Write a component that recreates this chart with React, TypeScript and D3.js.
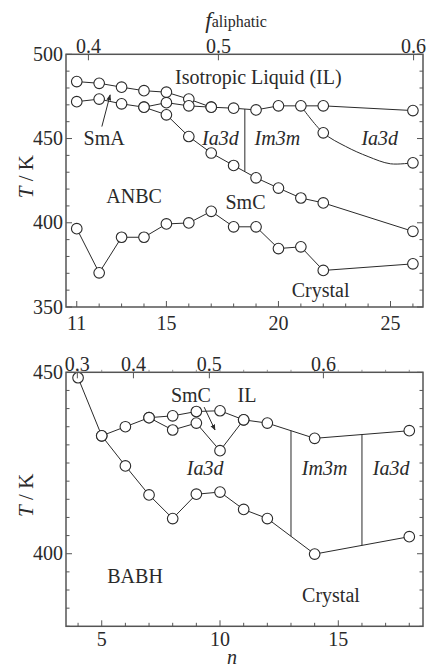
import * as d3 from "d3";
import React from "react";

// ANBC (upper panel) – transition temperatures T/K vs n
const anbcClearN = [11, 12, 13, 14, 15, 16, 17, 18, 19, 20, 21, 22, 26];
const anbcClearT = [483.8, 482.8, 480.5, 478.4, 477.5, 473.4, 468.6, 468.0, 467.0, 469.4, 469.4, 469.4, 466.6];
const anbcSmAN = [11, 12, 13, 14, 15, 16, 17];
const anbcSmAT = [471.9, 473.4, 470.6, 468.6, 471.3, 469.4, 468.6];
const anbcSmCN = [14, 15, 16, 17, 18, 19, 20, 21, 22, 26];
const anbcSmCT = [468.6, 464.1, 451.2, 441.4, 434.0, 426.7, 420.6, 414.7, 411.8, 394.9];
const anbcCrN = [11, 12, 13, 14, 15, 16, 17, 18, 19, 20, 21, 22, 26];
const anbcCrT = [396.5, 370.3, 391.4, 391.4, 399.3, 399.9, 406.8, 397.6, 397.6, 384.7, 385.7, 371.7, 375.6];
const anbcCubN = [21, 22, 23, 24, 25, 26];
const anbcCubT = [469.4, 453.4, 445.3, 439.3, 435.0, 435.6];
const anbcCubMarked = [22, 26];
const anbcWallN = [18.5];
const anbcFLabels = ["0.4", "0.5", "0.6"];
const anbcFAtN = [11.52, 17.32, 26.03];
const anbcXLabels = [11, 15, 20, 25];

// BABH (lower panel)
const babhILN = [4, 5, 6, 7, 8, 9, 10, 11, 12, 14, 18];
const babhILT = [448.5, 432.5, 435.0, 437.5, 438.0, 439.2, 439.4, 436.9, 436.0, 431.8, 433.9];
const babhSmCN = [7, 8, 9, 10, 11];
const babhSmCT = [437.5, 434.1, 436.0, 428.4, 436.9];
const babhCrN = [5, 6, 7, 8, 9, 10, 11, 12, 14, 18];
const babhCrT = [432.5, 424.2, 416.2, 409.7, 416.4, 417.0, 412.2, 409.7, 399.9, 404.7];
const babhWallN = [13, 16];
const babhFLabels = ["0.3", "0.4", "0.5", "0.6"];
const babhFAtN = [3.97, 6.34, 9.55, 14.37];
const babhXLabels = [5, 10, 15];

const W = 432;
const H = 667;
const serif = "'Liberation Serif', 'DejaVu Serif', serif";
const ink = "#2a2a2a";

type Series = { n: number[]; t: number[]; marked?: number[]; curve?: boolean };
type Label = { text: string; n: number; t: number; italic?: boolean };
type Arrow = { from: [number, number]; to: [number, number] };

// multiples of step inside [lo, hi]
const stepsIn = (lo: number, hi: number, step: number) =>
  d3.range(Math.ceil(lo / step - 1e-9) * step, hi + 1e-6, step);

function Panel(props: {
  top: number;
  bottom: number;
  xDomain: [number, number];
  yDomain: [number, number];
  yMajor: number;
  yMinor: number;
  xLabels: number[];
  xLabelGap: number;
  fLabels: string[];
  fAtN: number[];
  topMinor: boolean;
  series: Series[];
  walls: { n: number[]; upper: Series; lower: Series };
  labels: Label[];
  arrows: Arrow[];
}) {
  const left = 66;
  const right = 423;
  const x = d3.scaleLinear().domain(props.xDomain).range([left, right]);
  const y = d3.scaleLinear().domain(props.yDomain).range([props.bottom, props.top]);

  const [y0, y1] = props.yDomain;
  const yMinorTicks = stepsIn(y0, y1, props.yMinor);
  const yMajorTicks = stepsIn(y0, y1, props.yMajor);
  const isMajor = (t: number) => yMajorTicks.some((m) => Math.abs(m - t) < 1e-6);
  const xInts = d3.range(Math.ceil(props.xDomain[0]), Math.floor(props.xDomain[1]) + 1);

  const line = d3
    .line<[number, number]>()
    .x((d) => x(d[0]))
    .y((d) => y(d[1]));
  const curve = d3
    .line<[number, number]>()
    .x((d) => x(d[0]))
    .y((d) => y(d[1]))
    .curve(d3.curveCatmullRom.alpha(0.5));

  const interp = (s: Series) => d3.scaleLinear().domain(s.n).range(s.t);
  const up = interp(props.walls.upper);
  const lo = interp(props.walls.lower);

  return (
    <g>
      {/* phase boundary lines */}
      {props.series.map((s, i) => {
        const pts = s.n.map((n, j) => [n, s.t[j]] as [number, number]);
        return (
          <path
            key={"l" + i}
            d={(s.curve ? curve : line)(pts) || ""}
            fill="none"
            stroke={ink}
            strokeWidth={1}
          />
        );
      })}
      {props.walls.n.map((n) => (
        <line
          key={"w" + n}
          x1={x(n)}
          x2={x(n)}
          y1={y(up(n))}
          y2={y(lo(n))}
          stroke={ink}
          strokeWidth={1}
        />
      ))}
      {/* markers */}
      {props.series.map((s, i) =>
        s.n.map((n, j) =>
          s.marked && !s.marked.includes(n) ? null : (
            <circle
              key={"c" + i + "-" + j}
              cx={x(n)}
              cy={y(s.t[j])}
              r={5.3}
              fill="white"
              stroke={ink}
              strokeWidth={1.1}
            />
          )
        )
      )}
      {/* frame */}
      <rect
        x={left}
        y={props.top}
        width={right - left}
        height={props.bottom - props.top}
        fill="none"
        stroke="#555"
        strokeWidth={1.5}
      />
      {/* y ticks both sides */}
      {yMinorTicks.map((t) => {
        const len = isMajor(t) ? 6 : 3.5;
        return (
          <g key={"yt" + t} stroke="#555" strokeWidth={1}>
            <line x1={left} x2={left + len} y1={y(t)} y2={y(t)} />
            <line x1={right} x2={right - len} y1={y(t)} y2={y(t)} />
          </g>
        );
      })}
      {yMajorTicks.map((t) => (
        <text
          key={"yl" + t}
          x={left - 3}
          y={y(t)}
          dy="0.33em"
          textAnchor="end"
          fontFamily={serif}
          fontSize={20}
          fill={ink}
        >
          {t}
        </text>
      ))}
      {/* bottom x ticks */}
      {xInts.map((n) => {
        const len = props.xLabels.includes(n) ? 6 : 3.5;
        return (
          <line
            key={"xt" + n}
            x1={x(n)}
            x2={x(n)}
            y1={props.bottom}
            y2={props.bottom - len}
            stroke="#555"
            strokeWidth={1}
          />
        );
      })}
      {props.xLabels.map((n) => (
        <text
          key={"xl" + n}
          x={x(n)}
          y={props.bottom + props.xLabelGap}
          dy="0.33em"
          textAnchor="middle"
          fontFamily={serif}
          fontSize={20}
          fill={ink}
        >
          {n}
        </text>
      ))}
      {/* top f axis */}
      {props.topMinor &&
        xInts.map((n) => (
          <line
            key={"tt" + n}
            x1={x(n)}
            x2={x(n)}
            y1={props.top}
            y2={props.top - 2.5}
            stroke="#777"
            strokeWidth={0.8}
          />
        ))}
      {props.fAtN.map((n, i) => (
        <g key={"ft" + i}>
          <line x1={x(n)} x2={x(n)} y1={props.top} y2={props.top + 6} stroke="#555" strokeWidth={1} />
          <text
            x={x(n)}
            y={props.top - 8}
            dy="0.33em"
            textAnchor="middle"
            fontFamily={serif}
            fontSize={20}
            fill={ink}
          >
            {props.fLabels[i]}
          </text>
        </g>
      ))}
      {/* region labels */}
      {props.labels.map((l, i) => (
        <text
          key={"r" + i}
          x={x(l.n)}
          y={y(l.t)}
          dy="0.33em"
          textAnchor="middle"
          fontFamily={serif}
          fontSize={20}
          fontStyle={l.italic ? "italic" : "normal"}
          fill={ink}
        >
          {l.text}
        </text>
      ))}
      {props.arrows.map((a, i) => (
        <line
          key={"a" + i}
          x1={x(a.from[0])}
          y1={y(a.from[1])}
          x2={x(a.to[0])}
          y2={y(a.to[1])}
          stroke={ink}
          strokeWidth={1}
          markerEnd="url(#arrowHead)"
        />
      ))}
      {/* y axis title */}
      <text
        transform={`translate(26, ${(props.top + props.bottom) / 2 - 4}) rotate(-90)`}
        dy="0.33em"
        textAnchor="middle"
        fontFamily={serif}
        fontSize={21}
        fill={ink}
      >
        <tspan fontStyle="italic">T</tspan>
        <tspan> / K</tspan>
      </text>
    </g>
  );
}

export default function App() {
  const anbcClear = { n: anbcClearN, t: anbcClearT };
  const anbcSmC = { n: anbcSmCN, t: anbcSmCT };
  const babhIL = { n: babhILN, t: babhILT };
  const babhCr = { n: babhCrN, t: babhCrT };

  return (
    <svg
      width={W}
      height={H}
      style={{ position: "absolute", left: 0, top: 0, background: "white" }}
    >
      <defs>
        <marker
          id="arrowHead"
          viewBox="0 0 10 10"
          refX={9}
          refY={5}
          markerWidth={6}
          markerHeight={6}
          orient="auto"
        >
          <path d="M0,1 L10,5 L0,9 z" fill={ink} />
        </marker>
      </defs>

      <text x={236} y={28} textAnchor="middle" fontFamily={serif} fill={ink}>
        <tspan fontStyle="italic" fontSize={23}>f</tspan>
        <tspan fontSize={16} dy={-1}>aliphatic</tspan>
      </text>

      <Panel
        top={54.3}
        bottom={307}
        xDomain={[10.52, 26.45]}
        yDomain={[350, 500]}
        yMajor={50}
        yMinor={10}
        xLabels={anbcXLabels}
        xLabelGap={16}
        fLabels={anbcFLabels}
        fAtN={anbcFAtN}
        topMinor={false}
        series={[
          anbcClear,
          { n: anbcSmAN, t: anbcSmAT },
          anbcSmC,
          { n: anbcCrN, t: anbcCrT },
          { n: anbcCubN, t: anbcCubT, marked: anbcCubMarked, curve: true },
        ]}
        walls={{ n: anbcWallN, upper: anbcClear, lower: anbcSmC }}
        labels={[
          { text: "Isotropic Liquid (IL)", n: 19.1, t: 486.2 },
          { text: "SmA", n: 12.22, t: 450.2 },
          { text: "Ia3d", n: 17.41, t: 450.2, italic: true },
          { text: "Im3m", n: 19.95, t: 450.2, italic: true },
          { text: "Ia3d", n: 24.52, t: 450.2, italic: true },
          { text: "ANBC", n: 13.56, t: 415.7 },
          { text: "SmC", n: 18.53, t: 412 },
          { text: "Crystal", n: 21.88, t: 359.8 },
        ]}
        arrows={[{ from: [12.12, 457.1], to: [12.49, 475.9] }]}
      />

      <Panel
        top={372.3}
        bottom={626.3}
        xDomain={[3.49, 18.58]}
        yDomain={[380, 450]}
        yMajor={50}
        yMinor={5}
        xLabels={babhXLabels}
        xLabelGap={13}
        fLabels={babhFLabels}
        fAtN={babhFAtN}
        topMinor={true}
        series={[babhIL, { n: babhSmCN, t: babhSmCT }, babhCr]}
        walls={{ n: babhWallN, upper: babhIL, lower: babhCr }}
        labels={[
          { text: "SmC", n: 8.77, t: 443.6 },
          { text: "IL", n: 11.14, t: 443.6 },
          { text: "Ia3d", n: 9.37, t: 423.6, italic: true },
          { text: "Im3m", n: 14.42, t: 423.6, italic: true },
          { text: "Ia3d", n: 17.23, t: 423.6, italic: true },
          { text: "BABH", n: 6.41, t: 393.8 },
          { text: "Crystal", n: 14.69, t: 388.6 },
        ]}
        arrows={[{ from: [9.33, 440.4], to: [9.79, 434.1] }]}
      />

      <text
        x={232}
        y={664}
        textAnchor="middle"
        fontFamily={serif}
        fontStyle="italic"
        fontSize={20}
        fill={ink}
      >
        n
      </text>
    </svg>
  );
}
